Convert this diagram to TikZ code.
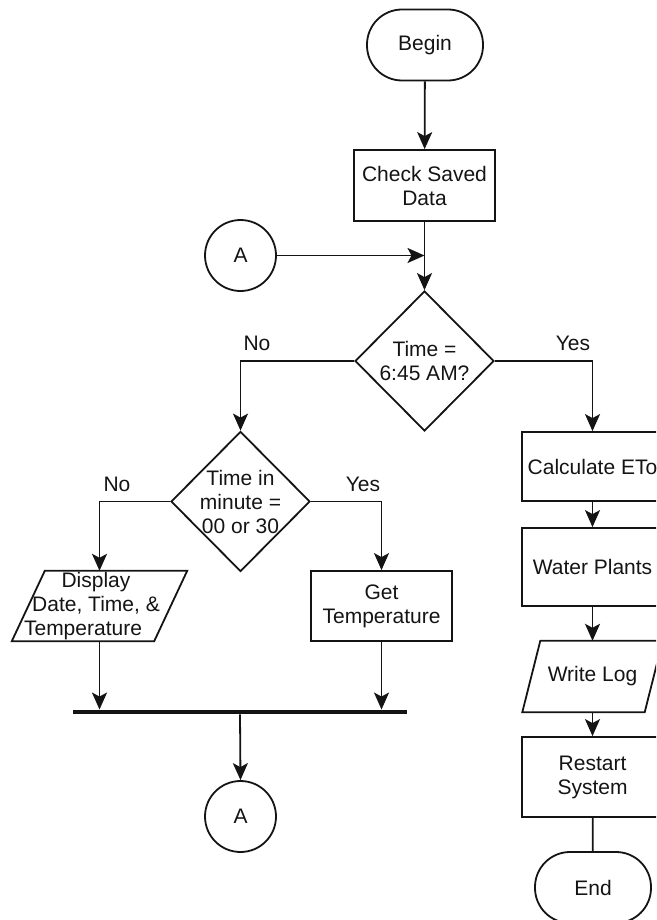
\documentclass[tikz,border=0pt]{standalone}
\usepackage{fontspec}
\setmainfont{Liberation Sans}
\usetikzlibrary{shapes.geometric,arrows.meta}
\definecolor{ink}{HTML}{141414}
\tikzset{
  every node/.style={font=\fontsize{21}{24}\selectfont, text=ink},
  ln/.style={draw=ink, line width=1.8pt},
  arr/.style={ln, -{Stealth[length=17pt,width=15pt,inset=4pt]}},
  proc/.style={ln, rectangle, minimum width=141pt, align=center, inner sep=0pt},
  term/.style={ln, rectangle, rounded corners=35pt, minimum width=116pt, minimum height=71pt},
  conn/.style={ln, circle, minimum size=71pt, inner sep=0pt},
  dec/.style={ln, diamond, minimum width=139pt, minimum height=140pt, inner sep=0pt},
  io/.style={rectangle, align=center, inner sep=0pt},
  lbl/.style={inner sep=0pt},
}
\begin{document}
\begin{tikzpicture}[x=1pt,y=-1pt]
\useasboundingbox (0,0) rectangle (656,920);
\clip (0,0) rectangle (656,920);

% top
\node[term] (begin) at (425,45) {Begin};
\node[proc, minimum height=71pt] (check) at (424.5,185.5) {Check Saved\\Data};
\node[conn] (a1) at (240.5,255.5) {A};
\coordinate (join) at (424.5,255.5);
\node[dec] (d1) at (424.5,361) {};
\node[lbl, align=center] (t1) at (d1) {Time =\\6:45 AM?};

% left branch
\node[dec] (d2) at (240.5,501.5) {};
\node[lbl, align=center] (t2) at (d2) {Time in\\minute =\\00 or 30};
\node[io, minimum width=142pt, minimum height=70pt] (disp) at (99.5,606) {};
\draw[ln] ([xshift=16.5pt]disp.north west) -- ([xshift=16.5pt]disp.north east)
  -- ([xshift=-16.5pt]disp.south east) -- ([xshift=-16.5pt]disp.south west) -- cycle;
\node[lbl, align=center] (tdisp) at (96,606) {Display\\Date, Time, \&\\\hspace*{-26pt}Temperature};
\node[proc, minimum height=70pt] (gt) at (381.5,606) {Get\\Temperature};
\node[rectangle, fill=ink, minimum width=334pt, minimum height=4.5pt, inner sep=0pt] (bar) at (240,712) {};
\node[conn] (a2) at (240.5,816.5) {A};

% right branch
\node[proc, minimum height=69pt] (calc) at (592.5,466.5) {Calculate ETo};
\node[proc, minimum height=78pt] (water) at (592.5,567) {Water Plants};
\node[io, minimum width=122pt, minimum height=71pt] (log) at (592.5,676.5) {Write Log};
\draw[ln] ([xshift=9pt]log.north west) -- ([xshift=9pt]log.north east)
  -- ([xshift=-9pt]log.south east) -- ([xshift=-9pt]log.south west) -- cycle;
\node[proc, minimum height=80pt] (restart) at (592.5,777) {Restart\\System};
\node[term] (end) at (593,887.5) {End};

% labels
\node[lbl] (no1) at (257,343.5) {No};
\node[lbl] (yes1) at (573,343.5) {Yes};
\node[lbl] (no2) at (117,484) {No};
\node[lbl] (yes2) at (363,484) {Yes};

% connectors
\draw[arr] (begin) -- (check);
\draw[arr] (check) -- (d1.north);
\draw[arr] (a1) -- (join);
\draw[arr] (d1.west) -| (d2.north);
\draw[arr] (d1.east) -| (calc.north);
\draw[arr] (d2.west) -| (disp.north);
\draw[arr] (d2.east) -| (gt.north);
\draw[arr] (disp.south) -- (disp.south |- bar.north);
\draw[arr] (gt.south) -- (gt.south |- bar.north);
\draw[arr] (bar.south) -- (a2.north);
\draw[arr] (calc) -- (water);
\draw[arr] (water) -- (log.north);
\draw[arr] (log.south) -- (restart);
\draw[ln] (restart) -- (end);
\end{tikzpicture}
\end{document}
